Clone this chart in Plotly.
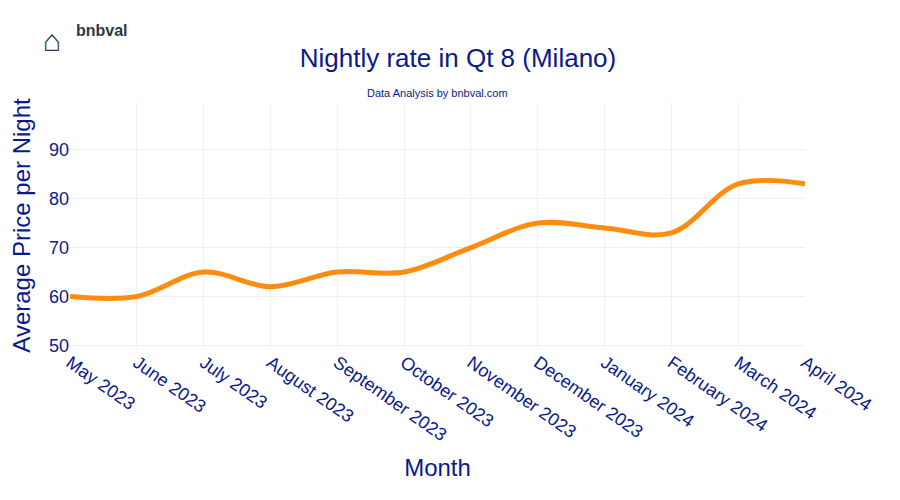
import plotly.graph_objects as go

# Dados do gráfico
months = ["May 2023", "June 2023", "July 2023", "August 2023", "September 2023",
          "October 2023", "November 2023", "December 2023", "January 2024",
          "February 2024", "March 2024", "April 2024"]
prices = [60, 60, 65, 62, 65, 65, 70, 75, 74, 73, 83, 83]

navy = "#0a1a8a"

fig = go.Figure()
fig.add_trace(go.Scatter(x=months, y=prices, mode="lines",
                         line=dict(color="#ff8c0f", width=5, shape="spline", smoothing=1.0)))

fig.update_layout(
    width=900, height=500,
    plot_bgcolor="white", paper_bgcolor="white",
    margin=dict(l=62, r=103, t=95, b=160),
    showlegend=False,
    font=dict(family="Arial", color=navy),
    title=dict(text="Nightly rate in Qt 8 (Milano)", x=0.5, y=0.9, xanchor="center",
               yanchor="middle", font=dict(size=26, color=navy)),
    xaxis=dict(title=dict(text="Month", font=dict(size=24, color=navy)),
               tickangle=35, tickfont=dict(size=18, color=navy), automargin=False,
               showgrid=True, gridcolor="#eeeeee", zeroline=False),
    yaxis=dict(title=dict(text="Average Price per Night", font=dict(size=24, color=navy), standoff=12),
               range=[49.5, 99.5], tickvals=[50, 60, 70, 80, 90], automargin=False,
               tickfont=dict(size=18, color=navy),
               showgrid=True, gridcolor="#eeeeee", zeroline=False),
)

fig.add_annotation(text="Data Analysis by bnbval.com", x=0.5, y=1.01, xref="paper", yref="paper",
                   yanchor="bottom", showarrow=False, font=dict(size=11, color=navy))
fig.add_annotation(text="<b>bnbval</b>", x=0.005, y=1.34, xref="paper", yref="paper",
                   xanchor="left", showarrow=False, font=dict(size=16, color="#2b3a42"))
fig.add_annotation(text="⌂", x=-0.04, y=1.33, xref="paper", yref="paper",
                   xanchor="left", showarrow=False, font=dict(size=30, color="#2b3a42"))

fig.write_html("out.html")
